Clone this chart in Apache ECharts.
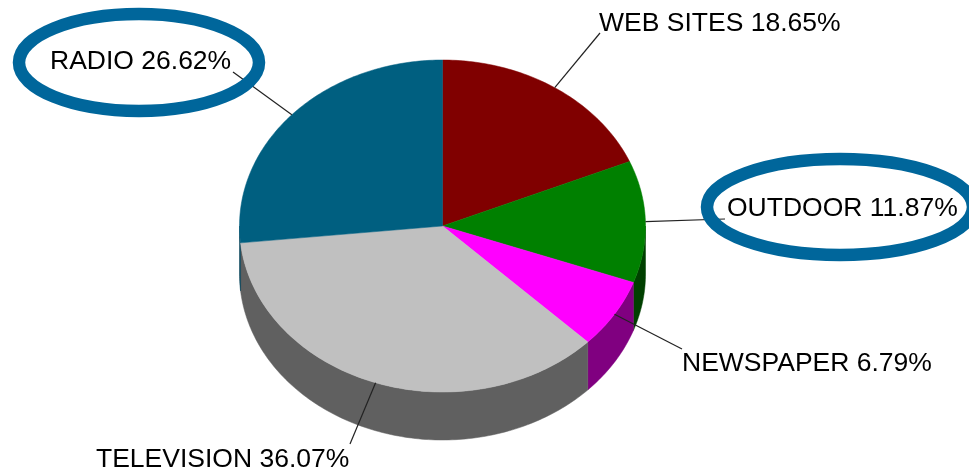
<!DOCTYPE html>
<html>
<head>
<meta charset="utf-8">
<style>
  html, body { margin: 0; padding: 0; background: #fff; }
  #chart { width: 969px; height: 471px; overflow: hidden; }
</style>
<script src="https://cdn.jsdelivr.net/npm/echarts@6/dist/echarts.min.js"></script>
</head>
<body>
<div id="chart"></div>
<script>
// data, clockwise from 12 o'clock
const names = ["WEB SITES", "OUTDOOR", "NEWSPAPER", "TELEVISION", "RADIO"];
const shares = [18.65, 11.87, 6.79, 36.07, 26.62];

const topColors = ["#800000", "#008000", "#ff00ff", "#c0c0c0", "#005f80"];
const sideColors = ["#400000", "#004000", "#800080", "#606060", "#003f55"];

// where the leader lines end and the labels sit
const leaderEnds = [[600, 33], [725, 219], [682, 349], [350, 444], [233, 72]];
const labelPos = [[599, 24], [727, 209], [682, 364], [96, 460], [50, 62]];

const cx = 442.5, cy = 226, rx = 203, ry = 166, depth = 48;

const total = shares.reduce((a, b) => a + b, 0);
const starts = [];
shares.reduce((sum, v, i) => {
  starts[i] = sum;
  return sum + v;
}, 0);

const angleOf = (share) => (share / total) * Math.PI * 2;
const rimPoint = (a, dy) => [cx + rx * Math.sin(a), cy - ry * Math.cos(a) + (dy || 0)];

function arcPoints(a0, a1, dy) {
  const pts = [];
  const n = Math.max(2, Math.ceil((a1 - a0) * 60));
  for (let i = 0; i <= n; i++) {
    pts.push(rimPoint(a0 + ((a1 - a0) * i) / n, dy));
  }
  return pts;
}

// the wall only shows on the front half of the disc
function renderSide(params) {
  const i = params.dataIndex;
  const a0 = Math.max(angleOf(starts[i]), Math.PI / 2);
  const a1 = Math.min(angleOf(starts[i] + shares[i]), Math.PI * 1.5);
  if (a1 <= a0) return null;
  const upper = arcPoints(a0, a1, 0);
  const lower = arcPoints(a0, a1, depth).reverse();
  return {
    type: "polygon",
    shape: { points: upper.concat(lower) },
    style: { fill: sideColors[i], stroke: sideColors[i], lineWidth: 0.5 },
  };
}

function renderTop(params) {
  const i = params.dataIndex;
  const pts = arcPoints(angleOf(starts[i]), angleOf(starts[i] + shares[i]), 0);
  return {
    type: "polygon",
    shape: { points: [[cx, cy]].concat(pts) },
    style: { fill: topColors[i], stroke: topColors[i], lineWidth: 0.5 },
  };
}

function renderLabel(params) {
  const i = params.dataIndex;
  const start = rimPoint(angleOf(starts[i] + shares[i] / 2), 0);
  return {
    type: "group",
    children: [
      {
        type: "line",
        shape: { x1: start[0], y1: start[1], x2: leaderEnds[i][0], y2: leaderEnds[i][1] },
        style: { stroke: "#222", lineWidth: 1.2 },
      },
      {
        type: "text",
        x: labelPos[i][0],
        y: labelPos[i][1],
        style: {
          text: names[i] + " " + shares[i].toFixed(2) + "%",
          fill: "#000",
          font: '26.5px "Liberation Sans", Arial, sans-serif',
          textAlign: "left",
          textVerticalAlign: "middle",
        },
      },
    ],
  };
}

const chart = echarts.init(document.getElementById("chart"), null, { renderer: "canvas" });

const ring = (x, y, a, b) => ({
  type: "ellipse",
  shape: { cx: x, cy: y, rx: a, ry: b },
  style: { fill: "transparent", stroke: "#00669b", lineWidth: 12.5 },
  z: 100,
  silent: true,
});

chart.setOption({
  backgroundColor: "#fff",
  animation: false,
  tooltip: { show: false },
  series: [
    { type: "custom", coordinateSystem: "none", renderItem: renderSide, data: shares, z: 1, silent: true },
    { type: "custom", coordinateSystem: "none", renderItem: renderTop, data: shares, z: 2, silent: true },
    { type: "custom", coordinateSystem: "none", renderItem: renderLabel, data: shares, z: 3, silent: true },
  ],
  graphic: [ring(139, 62.5, 120, 48.5), ring(840, 207, 133, 48)],
});
</script>
</body>
</html>
